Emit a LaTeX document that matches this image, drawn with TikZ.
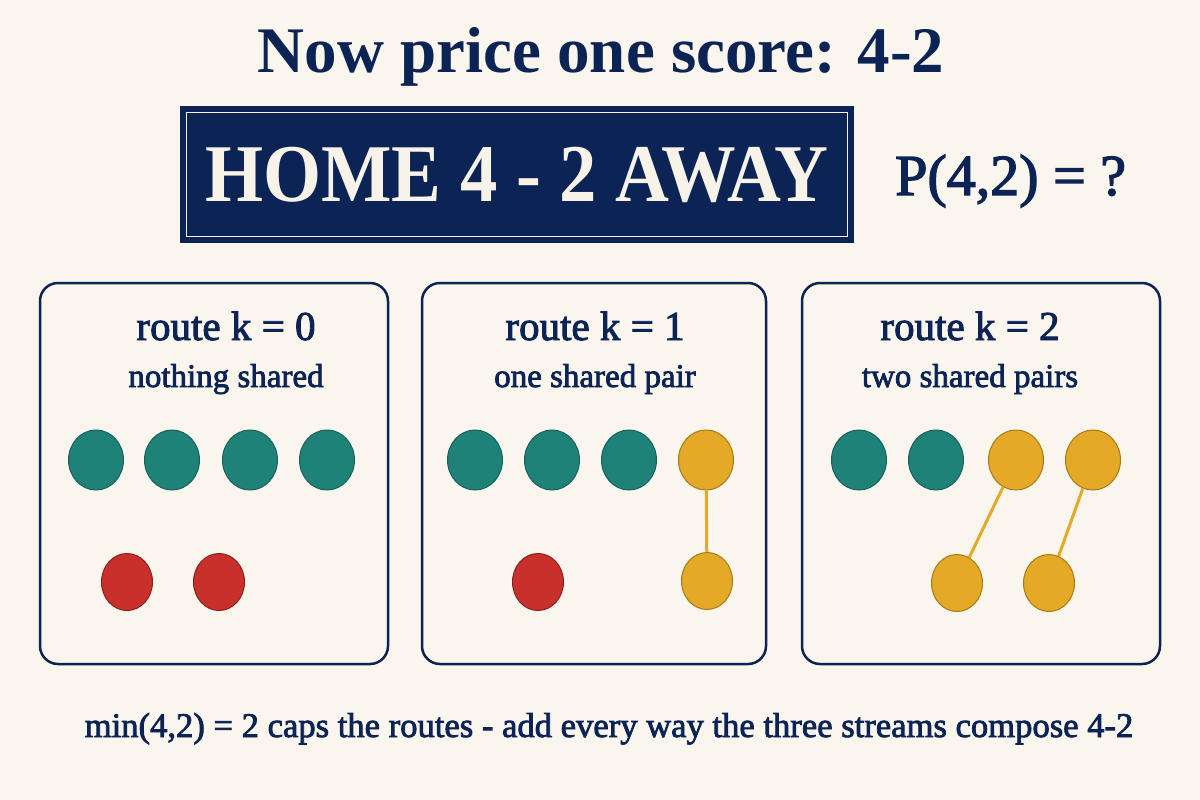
\documentclass[tikz,border=0pt]{standalone}
\usepackage{fontspec}
\setmainfont{Liberation Serif}
\newfontfamily\medserif{Liberation Serif}[FakeBold=2.3]
\usetikzlibrary{shapes.geometric}

\definecolor{navy}{HTML}{0C2455}
\definecolor{paper}{HTML}{FAF6EE}
\definecolor{boxtext}{HTML}{F8F3E8}
\definecolor{homefill}{HTML}{1F8279}
\definecolor{homeline}{HTML}{16625B}
\definecolor{awayfill}{HTML}{C8302C}
\definecolor{awayline}{HTML}{8E1E1C}
\definecolor{pairfill}{HTML}{E3A927}
\definecolor{pairline}{HTML}{A87A14}

\tikzset{
  ball/.style={ellipse, draw, line width=1pt, minimum width=55pt, minimum height=60pt, inner sep=0pt},
  lowball/.style={ball, minimum width=51pt, minimum height=57pt},
  homeball/.style={ball, fill=homefill, draw=homeline},
  awayball/.style={lowball, fill=awayfill, draw=awayline},
  pairtop/.style={ball, fill=pairfill, draw=pairline},
  pairlow/.style={lowball, fill=pairfill, draw=pairline},
  link/.style={draw=pairfill, line width=3pt},
  routebox/.style={draw=navy, line width=2.5pt, rounded corners=18pt, minimum height=381pt, inner sep=0pt},
  routehead/.style={navy, anchor=base, inner sep=0pt, font=\medserif\fontsize{41}{41}\selectfont},
  routesub/.style={navy, anchor=base, inner sep=0pt, font=\medserif\fontsize{33}{33}\selectfont}
}

\begin{document}
\begin{tikzpicture}[x=1pt, y=-1pt]
  \fill[paper] (0,0) rectangle (1200,800);
  \useasboundingbox (0,0) rectangle (1200,800);

  % heading and score board
  \node[navy, anchor=base, inner sep=0pt, font=\bfseries\fontsize{65}{65}\selectfont] (title) at (601,73) {Now price one score: 4-2};
  \node[fill=navy, minimum width=674pt, minimum height=137pt, inner sep=0pt, text=boxtext,
    font=\bfseries\fontsize{82}{82}\selectfont] (score) at (517,174.5) {\scalebox{0.91}[1]{HOME 4 - 2 AWAY}};
  \draw[boxtext, line width=1.2pt] ([shift={(7,7)}]score.north west) rectangle ([shift={(-7,-7)}]score.south east);
  \node[navy, anchor=base west, inner sep=0pt, font=\medserif\fontsize{58}{58}\selectfont] (prob) at (895,195) {P(4,2) = ?};

  % the three routes
  \node[routebox, minimum width=348pt] (box0) at (214,473.5) {};
  \node[routebox, minimum width=344pt] (box1) at (594,473.5) {};
  \node[routebox, minimum width=358pt] (box2) at (981,473.5) {};

  \node[routehead] (head0) at (226,340) {route k = 0};
  \node[routesub] (sub0) at (226,387) {nothing shared};
  \node[routehead] (head1) at (595,340) {route k = 1};
  \node[routesub] (sub1) at (595,387) {one shared pair};
  \node[routehead] (head2) at (970,340) {route k = 2};
  \node[routesub] (sub2) at (970,387) {two shared pairs};

  % k = 0
  \foreach \x [count=\i] in {96,172,250,327}
    \node[homeball] (a\i) at (\x,460) {};
  \node[awayball] (ar1) at (127,582) {}; \node[awayball] (ar2) at (219,582) {};

  % k = 1
  \foreach \x [count=\i] in {475,552,629}
    \node[homeball] (b\i) at (\x,460) {};
  \node[pairtop] (bp1) at (706,460) {};
  \node[awayball] (br1) at (538,582) {};
  \node[pairlow] (bq1) at (707,581) {};
  \draw[link] (bp1) -- (bq1);

  % k = 2
  \node[homeball] (c1) at (859,460) {}; \node[homeball] (c2) at (936,460) {};
  \node[pairtop] (cp1) at (1016,460) {}; \node[pairtop] (cp2) at (1093,460) {};
  \node[pairlow] (cq1) at (957,583) {}; \node[pairlow] (cq2) at (1049,583) {};
  \draw[link] (cp1) -- (cq1);
  \draw[link] (cp2) -- (cq2);

  \node[navy, anchor=base, inner sep=0pt, font=\medserif\fontsize{34.6}{34.6}\selectfont] (note) at (609,737)
    {min(4,2) = 2 caps the routes - add every way the three streams compose 4-2};
\end{tikzpicture}
\end{document}
